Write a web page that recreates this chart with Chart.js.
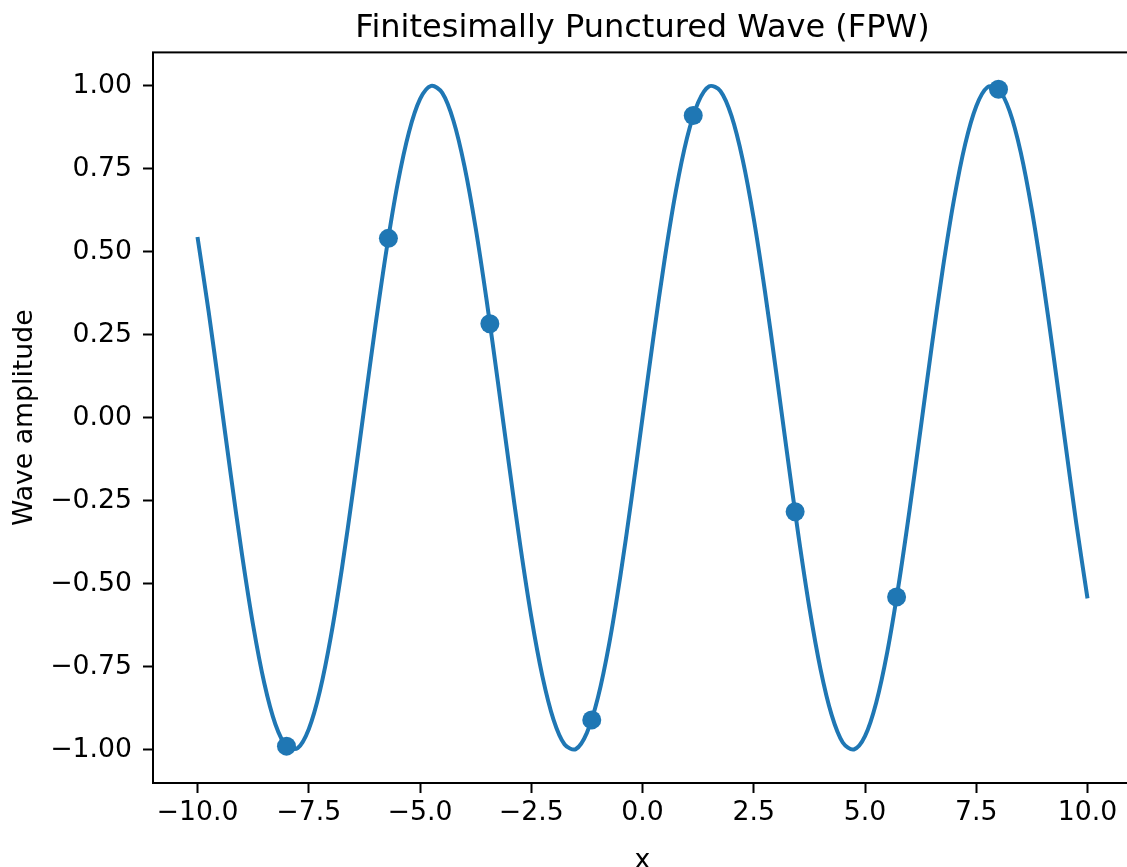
<!DOCTYPE html>
<html>
<head>
<meta charset="utf-8">
<script src="https://cdn.jsdelivr.net/npm/chart.js@4/dist/chart.umd.min.js"></script>
<style>
  body { margin: 0; overflow: hidden; background: #fff; }
  #wrap { position: absolute; left: 0; top: 0; width: 1160px; height: 880px; }
</style>
</head>
<body>
<div id="wrap"><canvas id="chart" width="1160" height="880"></canvas></div>
<script>
// curve samples
const curveX = [
  -10, -9.75, -9.5, -9.25, -9, -8.75, -8.5, -8.25, -8, -7.75, -7.5, -7.25, -7, -6.75, -6.5, -6.25,
  -6, -5.75, -5.5, -5.25, -5, -4.75, -4.5, -4.25, -4, -3.75, -3.5, -3.25, -3, -2.75, -2.5, -2.25,
  -2, -1.75, -1.5, -1.25, -1, -0.75, -0.5, -0.25, 0, 0.25, 0.5, 0.75, 1, 1.25, 1.5, 1.75,
  2, 2.25, 2.5, 2.75, 3, 3.25, 3.5, 3.75, 4, 4.25, 4.5, 4.75, 5, 5.25, 5.5, 5.75,
  6, 6.25, 6.5, 6.75, 7, 7.25, 7.5, 7.75, 8, 8.25, 8.5, 8.75, 9, 9.25, 9.5, 9.75, 10
];
const curveY = [
  0.544, 0.320, 0.075, -0.174, -0.412, -0.625, -0.799, -0.923, -0.989, -0.995, -0.938, -0.823, -0.657, -0.450, -0.215, 0.033,
  0.279, 0.508, 0.706, 0.859, 0.959, 0.999, 0.978, 0.895, 0.757, 0.572, 0.351, 0.108, -0.141, -0.382, -0.599, -0.778,
  -0.909, -0.984, -0.998, -0.949, -0.842, -0.682, -0.479, -0.247, 0, 0.247, 0.479, 0.682, 0.842, 0.949, 0.998, 0.984,
  0.909, 0.778, 0.599, 0.382, 0.141, -0.108, -0.351, -0.572, -0.757, -0.895, -0.978, -0.999, -0.959, -0.859, -0.706, -0.508,
  -0.279, -0.033, 0.215, 0.450, 0.657, 0.823, 0.938, 0.995, 0.989, 0.923, 0.799, 0.625, 0.412, 0.174, -0.075, -0.320, -0.544
];
// the punctured points
const dotX = [-8, -5.71, -3.43, -1.14, 1.14, 3.43, 5.71, 8];
const dotY = [-0.989, 0.540, 0.283, -0.910, 0.910, -0.283, -0.540, 0.989];

const xTicks = [-10, -7.5, -5, -2.5, 0, 2.5, 5, 7.5, 10];
const yTicks = [-1, -0.75, -0.5, -0.25, 0, 0.25, 0.5, 0.75, 1];

const blue = "#1f77b4";
const font = "DejaVu Sans";

function fmt(v, d) {
  const s = Math.abs(v).toFixed(d);
  return v < 0 ? "\u2212" + s : s;
}

// box round the plot, like the spines
const framePlugin = {
  id: "frame",
  afterDraw(chart) {
    const a = chart.chartArea;
    const ctx = chart.ctx;
    ctx.save();
    ctx.strokeStyle = "#000";
    ctx.lineWidth = 2;
    ctx.strokeRect(a.left, a.top, a.right - a.left, a.bottom - a.top);
    ctx.restore();
  },
};

new Chart(document.getElementById("chart"), {
  type: "line",
  data: {
    datasets: [
      {
        type: "scatter",
        data: dotX.map((x, i) => ({ x: x, y: dotY[i] })),
        backgroundColor: blue,
        borderColor: blue,
        pointRadius: 9.5,
        pointBorderWidth: 0,
        showLine: false,
        order: 0,
      },
      {
        data: curveX.map((x, i) => ({ x: x, y: curveY[i] })),
        borderColor: blue,
        borderWidth: 4,
        pointRadius: 0,
        fill: false,
        tension: 0.33,
        order: 1,
      },
    ],
  },
  options: {
    responsive: false,
    animation: false,
    events: [],
    layout: { padding: { left: 0, right: 28, top: 0, bottom: 0 } },
    plugins: {
      legend: { display: false },
      tooltip: { enabled: false },
      title: {
        display: true,
        fullSize: false,
        text: "Finitesimally Punctured Wave (FPW)",
        color: "#000",
        font: { family: font, size: 32, weight: "normal" },
        padding: { top: 9, bottom: 5 },
      },
    },
    scales: {
      x: {
        type: "linear",
        min: -11,
        max: 11,
        afterBuildTicks: (s) => { s.ticks = xTicks.map((v) => ({ value: v })); },
        afterFit: (s) => { s.height = 97; },
        grid: { drawOnChartArea: false, drawTicks: true, tickLength: 10, tickWidth: 2, tickColor: "#000" },
        border: { display: false },
        ticks: {
          autoSkip: false,
          maxRotation: 0,
          padding: 4,
          color: "#000",
          font: { family: font, size: 26.7 },
          callback: (v) => fmt(v, 1),
        },
        title: {
          display: true,
          text: "x",
          color: "#000",
          font: { family: font, size: 26.7 },
          padding: { top: 4, bottom: 3 },
        },
      },
      y: {
        type: "linear",
        min: -1.1,
        max: 1.1,
        afterBuildTicks: (s) => { s.ticks = yTicks.map((v) => ({ value: v })); },
        afterFit: (s) => { s.width = 153; },
        grid: { drawOnChartArea: false, drawTicks: true, tickLength: 10, tickWidth: 2, tickColor: "#000" },
        border: { display: false },
        ticks: {
          padding: 11,
          color: "#000",
          font: { family: font, size: 26.7 },
          callback: (v) => fmt(v, 2),
        },
        title: {
          display: true,
          text: "Wave amplitude",
          color: "#000",
          font: { family: font, size: 26.7 },
          padding: { top: 9, bottom: 0 },
        },
      },
    },
  },
  plugins: [framePlugin],
});
</script>
</body>
</html>
